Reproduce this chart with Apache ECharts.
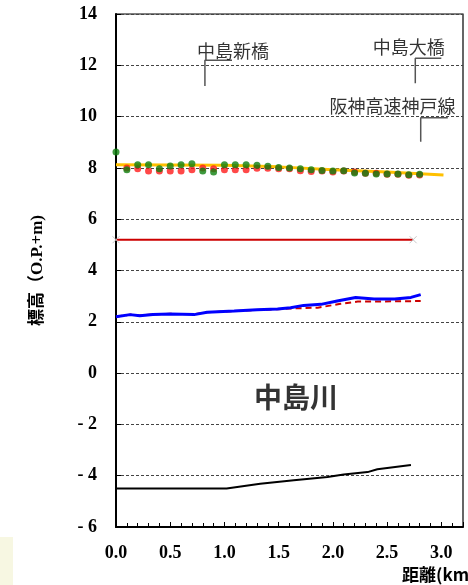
<!DOCTYPE html>
<html>
<head>
<meta charset="utf-8">
<script src="https://cdn.jsdelivr.net/npm/echarts@6/dist/echarts.min.js"></script>
<style>
  html, body { margin: 0; padding: 0; background: #fff; }
  #chart { width: 468px; height: 585px; }
</style>
</head>
<body>
<div id="chart"></div>
<script>
// 中島川 縦断図: distance (km) vs elevation (O.P.+m)

// Bank crest, measured points (green = left bank, red = right bank)
const leftBankX = [0.0, 0.1, 0.2, 0.3, 0.4, 0.5, 0.6, 0.7, 0.8, 0.9, 1.0, 1.1, 1.2, 1.3, 1.4,
                   1.5, 1.6, 1.7, 1.8, 1.9, 2.0, 2.1, 2.2, 2.3, 2.4, 2.5, 2.6, 2.7, 2.8];
const leftBankY = [8.62, 7.93, 8.12, 8.12, 7.97, 8.07, 8.12, 8.16, 7.88, 7.84, 8.12, 8.12, 8.12, 8.10, 8.06,
                   8.02, 8.00, 7.97, 7.93, 7.90, 7.88, 7.89, 7.80, 7.79, 7.76, 7.76, 7.76, 7.73, 7.75];
const rightBankX = [0.1, 0.2, 0.3, 0.4, 0.5, 0.6, 0.7, 0.8, 0.9, 1.0, 1.1, 1.2, 1.3, 1.4,
                    1.5, 1.6, 1.7, 1.8, 1.9, 2.0, 2.1, 2.2, 2.3, 2.4, 2.5, 2.6, 2.7, 2.8];
const rightBankY = [8.00, 7.97, 7.88, 7.88, 7.88, 7.88, 7.93, 8.00, 7.97, 7.93, 7.93, 7.93, 7.99, 7.99,
                    7.97, 7.97, 7.89, 7.86, 7.88, 7.84, 7.88, 7.84, 7.79, 7.79, 7.75, 7.75, 7.71, 7.72];

// Design crest line (orange)
const crestX = [0.0, 1.0, 1.5, 2.0, 2.5, 3.02];
const crestY = [8.12, 8.10, 8.04, 7.93, 7.84, 7.72];

// Horizontal level line (red)
const levelX = [0.0, 2.74];
const levelY = [5.2, 5.2];

// Water surface (blue) and comparison profile (red dashed)
const waterX = [0.0, 0.13, 0.22, 0.34, 0.5, 0.72, 0.84, 1.09, 1.3, 1.49, 1.61, 1.73, 1.89, 2.04, 2.21, 2.38, 2.57, 2.72, 2.81];
const waterY = [2.2, 2.28, 2.24, 2.28, 2.3, 2.28, 2.37, 2.42, 2.47, 2.5, 2.55, 2.64, 2.68, 2.81, 2.95, 2.89, 2.89, 2.95, 3.06];
const waterAltX = [0.0, 0.13, 0.22, 0.34, 0.5, 0.72, 0.84, 1.09, 1.3, 1.49, 1.6, 1.86, 2.07, 2.23, 2.41, 2.6, 2.81];
const waterAltY = [2.2, 2.28, 2.25, 2.29, 2.31, 2.3, 2.37, 2.42, 2.46, 2.49, 2.52, 2.55, 2.7, 2.79, 2.79, 2.8, 2.81];

// River bed (black)
const bedX = [0.0, 1.02, 1.33, 1.64, 1.95, 2.1, 2.32, 2.41, 2.72];
const bedY = [-4.5, -4.5, -4.31, -4.18, -4.05, -3.95, -3.86, -3.75, -3.58];

// Bridge call-outs: leader foot, leader top, leader end, label anchor
const bridgeNames = ['中島新橋', '中島大橋', '阪神高速神戸線'];
const bridgeAt = [0.82, 2.76, 2.81];
const leaderBottom = [11.19, 11.3, 9.02];
const leaderTop = [12.2, 12.27, 9.96];
const leaderEnd = [1.07, 3.0, 3.06];
const labelX = [1.08, 2.70, 2.55];
const labelY = [12.56, 12.72, 10.41];

// River name
const riverName = '中島川';
const riverNameAt = [1.66, -0.96];

// Axes
const xMin = 0, xMax = 3.2, xStep = 0.5;
const yMin = -6, yMax = 14, yStep = 2;

const zip = (xs, ys) => xs.map((x, i) => [x, ys[i]]);

const serif = '"Liberation Serif", "Times New Roman", serif';
const cjk = '"Noto Sans CJK JP", "Noto Sans", sans-serif';

const leaderSeries = bridgeNames.map((name, i) => ({
  type: 'line',
  name: name,
  data: [[bridgeAt[i], leaderBottom[i]], [bridgeAt[i], leaderTop[i]], [leaderEnd[i], leaderTop[i]]],
  showSymbol: false,
  lineStyle: { color: '#555', width: 1.5 },
  z: 3,
  silent: true
}));

const chart = echarts.init(document.getElementById('chart'), null, { renderer: 'canvas' });

chart.setOption({
  animation: false,
  backgroundColor: '#fff',
  grid: {
    left: 116, right: 5, top: 14, bottom: 58,
    show: true, borderColor: '#000', borderWidth: 1.2, backgroundColor: 'transparent'
  },
  xAxis: {
    type: 'value',
    min: xMin, max: xMax, interval: xStep,
    axisLine: { show: true, onZero: false, lineStyle: { color: '#000', width: 2 } },
    axisTick: { show: true, inside: true, length: 5, lineStyle: { color: '#000', width: 1 } },
    minorTick: { show: true, splitNumber: 5, length: 4, lineStyle: { color: '#000', width: 1 } },
    splitLine: { show: false },
    axisLabel: {
      margin: 17,
      color: '#000',
      fontFamily: serif,
      fontWeight: 'bold',
      fontSize: 18,
      formatter: v => (v > 3.01 ? '' : v.toFixed(1))
    }
  },
  yAxis: {
    type: 'value',
    min: yMin, max: yMax, interval: yStep,
    name: '標高（O.P.+m)',
    nameLocation: 'middle',
    nameGap: 70,
    nameRotate: 90,
    nameTextStyle: { color: '#000', fontFamily: serif + ',' + cjk, fontWeight: 'bold', fontSize: 17 },
    axisLine: { show: true, onZero: false, lineStyle: { color: '#000', width: 2 } },
    axisTick: { show: true, inside: true, length: 5, lineStyle: { color: '#000', width: 1 } },
    splitLine: { show: true, lineStyle: { color: '#444', width: 1, type: [3, 2] } },
    axisLabel: {
      margin: 19,
      color: '#000',
      fontFamily: serif,
      fontWeight: 'bold',
      fontSize: 18,
      formatter: v => (v < 0 ? '- ' + Math.abs(v) : String(v))
    }
  },
  graphic: [
    {
      type: 'rect', left: 0, top: 537, shape: { width: 13, height: 48 },
      style: { fill: '#f7f7e2' }, silent: true
    },
    {
      type: 'text', left: 402, top: 566,
      style: { text: '距離(km', fill: '#000', font: 'bold 17px ' + cjk }
    }
  ],
  series: [
    {
      type: 'line', name: 'crest', data: zip(crestX, crestY),
      showSymbol: false, lineStyle: { color: '#ffc000', width: 3 }, z: 2
    },
    {
      type: 'scatter', name: 'right bank', data: zip(rightBankX, rightBankY),
      symbolSize: 7, itemStyle: { color: '#ff1a1a' }, z: 4
    },
    {
      type: 'scatter', name: 'left bank', data: zip(leftBankX, leftBankY),
      symbolSize: 7, itemStyle: { color: '#0e800e' }, z: 5
    },
    {
      type: 'line', name: 'level', data: zip(levelX, levelY),
      symbol: 'path://M0 0L10 10M10 0L0 10', symbolSize: 7, showSymbol: true,
      itemStyle: { color: 'rgba(0,0,0,0)', borderColor: '#c8c8c8', borderWidth: 1 },
      lineStyle: { color: '#cc0000', width: 2 }, z: 3
    },
    {
      type: 'line', name: 'water alt', data: zip(waterAltX, waterAltY),
      showSymbol: false, lineStyle: { color: '#cc0000', width: 2, type: [6, 4] }, z: 3
    },
    {
      type: 'line', name: 'water', data: zip(waterX, waterY),
      showSymbol: false, lineStyle: { color: '#0000ff', width: 3 }, z: 4
    },
    {
      type: 'line', name: 'bed', data: zip(bedX, bedY),
      showSymbol: false, lineStyle: { color: '#000', width: 2 }, z: 4
    },
    ...leaderSeries,
    {
      type: 'scatter', name: 'bridge labels',
      data: bridgeNames.map((n, i) => ({ value: [labelX[i], labelY[i]], name: n })),
      symbolSize: 0, silent: true, z: 6,
      label: {
        show: true, position: 'inside', formatter: p => p.name,
        color: '#000', fontFamily: cjk, fontSize: 18
      }
    },
    {
      type: 'scatter', name: 'river label',
      data: [{ value: riverNameAt, name: riverName }],
      symbolSize: 0, silent: true, z: 6,
      label: {
        show: true, position: 'inside', formatter: p => p.name,
        color: '#000', fontFamily: cjk, fontWeight: 'bold', fontSize: 28
      }
    }
  ]
});
</script>
</body>
</html>
